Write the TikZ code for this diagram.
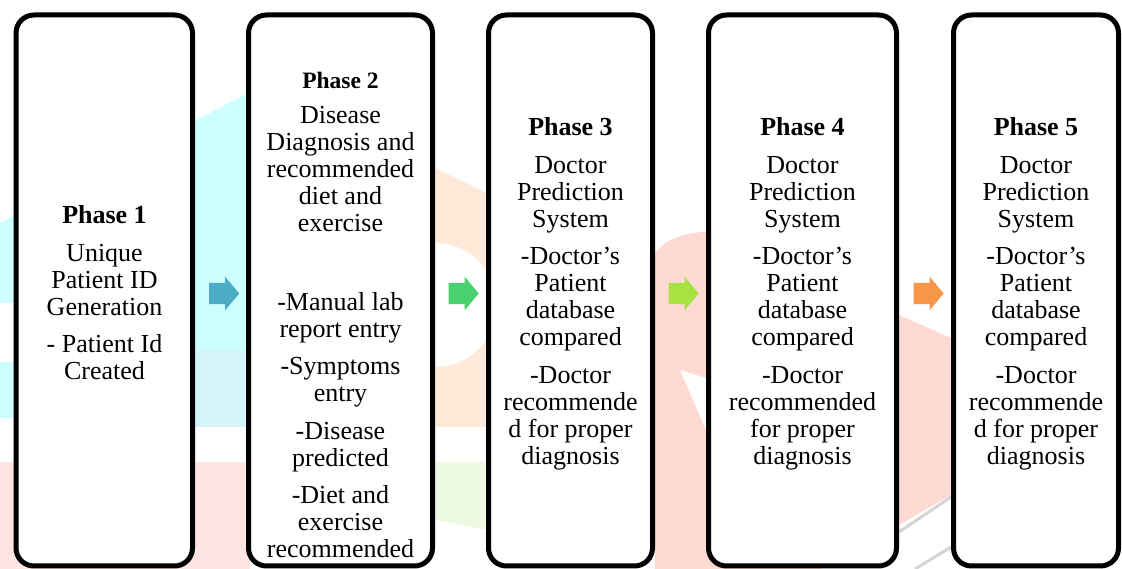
\documentclass[tikz,border=0pt]{standalone}
\usepackage{fontspec}
\setmainfont{Liberation Serif}
\usetikzlibrary{positioning, shapes.arrows}
\definecolor{arrow_teal}{RGB}{75, 172, 198}
\definecolor{arrow_green}{RGB}{71, 209, 111}
\definecolor{arrow_lime}{RGB}{166, 226, 65}
\definecolor{arrow_orange}{RGB}{247, 150, 70}
\definecolor{wm_cyan}{RGB}{206, 255, 255}
\definecolor{wm_blue}{RGB}{212, 245, 252}
\definecolor{wm_rose}{RGB}{255, 228, 226}
\definecolor{wm_peach}{RGB}{255, 234, 218}
\definecolor{wm_mint}{RGB}{238, 249, 226}
\definecolor{wm_pink}{RGB}{255, 218, 210}
\definecolor{wm_grey}{RGB}{212, 212, 212}

\begin{document}
\begin{tikzpicture}[
    x=1pt, y=1pt,
    every node/.style={font=\fontsize{26}{27}\selectfont},
    phasebox/.style={draw=black, line width=5pt, rounded corners=18pt, fill=white,
                minimum height=551pt, inner sep=0pt},
    phasetext/.style={align=center, inner sep=0pt},
    blockarr/.style={single arrow, draw=none, inner xsep=0pt, inner ysep=10.5pt,
                minimum height=30pt, single arrow head extend=6pt,
                single arrow tip angle=100},
]
\useasboundingbox (0,0) rectangle (1122,569);

% faint watermark behind the boxes
\fill[wm_cyan] (0,346) -- (250,477) -- (250,219) -- (0,219) -- cycle;
\fill[white] (0,209) rectangle (14,266);
\fill[wm_cyan] (0,151) rectangle (195,207);
\fill[wm_blue] (195,142) rectangle (250,219);
\fill[wm_rose] (0,0) rectangle (250,107);
\fill[wm_peach] (435,401) -- (487,376) -- (487,142) -- (435,142) -- cycle;
\fill[white] (435,264) circle (62);
\fill[wm_mint] (435,107) -- (487,107) -- (487,39) -- (435,49) -- cycle;
\fill[wm_pink] (655,0) -- (655,314) .. controls (662,330) and (688,337) .. (706,337)
    -- (899,254) -- (951,231) -- (951,74) -- (899,44) -- (820,0) -- cycle;
\fill[white] (680,199) -- (706,191) -- (706,139) -- cycle;
\draw[wm_grey, line width=3pt] (899,37) -- (951,72);
\draw[wm_grey, line width=3pt] (915,0) -- (951,22);

\node[phasebox, minimum width=176.5pt] (p1) at (104.25, 278.5) {};
\node[phasebox, minimum width=184pt]   (p2) at (340.5, 278.5) {};
\node[phasebox, minimum width=164pt]   (p3) at (570.5, 278.5) {};
\node[phasebox, minimum width=188pt]   (p4) at (802.5, 278.5) {};
\node[phasebox, minimum width=165pt]   (p5) at (1036, 278.5) {};

\node[phasetext] (t1) at (104.5, 276) {\textbf{Phase 1}\\[11pt] Unique\\Patient ID\\Generation\\[10pt] - Patient Id\\Created};
\node[phasetext] (t2) at (340.5, 254) {{\fontsize{23.5}{27}\selectfont\textbf{Phase 2}}\\[8pt] Disease\\Diagnosis and\\recommended\\diet and\\exercise\\[52pt]
    -Manual lab\\report entry\\[10pt] -Symptoms\\entry\\[11pt] -Disease\\predicted\\[10pt] -Diet and\\exercise\\recommended};
\node[phasetext] (t3) at (570.5, 275.5) {\textbf{Phase 3}\\[11pt] Doctor\\Prediction\\System\\[10pt] -Doctor’s\\Patient\\database\\compared\\[11pt]
    -Doctor\\recommende\\d for proper\\diagnosis};
\node[phasetext] (t4) at (802.5, 275.5) {\textbf{Phase 4}\\[11pt] Doctor\\Prediction\\System\\[10pt] -Doctor’s\\Patient\\database\\compared\\[11pt]
    -Doctor\\recommended\\for proper\\diagnosis};
\node[phasetext] (t5) at (1036, 275.5) {\textbf{Phase 5}\\[11pt] Doctor\\Prediction\\System\\[10pt] -Doctor’s\\Patient\\database\\compared\\[11pt]
    -Doctor\\recommende\\d for proper\\diagnosis};

\node[blockarr, fill=arrow_teal,   right=14pt of p1, yshift=-3pt] (a1) {};
\node[blockarr, fill=arrow_green,  right=13.5pt of p2, yshift=-3pt] (a2) {};
\node[blockarr, fill=arrow_lime,   right=13.5pt of p3, yshift=-3pt] (a3) {};
\node[blockarr, fill=arrow_orange, right=14.5pt of p4, yshift=-3pt] (a4) {};
\end{tikzpicture}
\end{document}
